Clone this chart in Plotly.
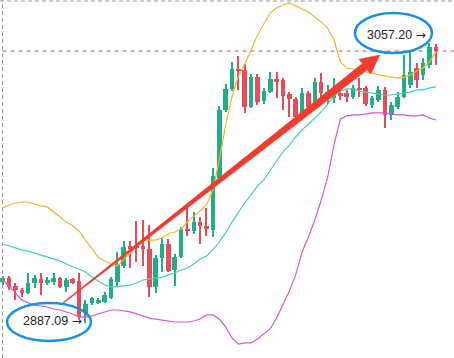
import math
import plotly.graph_objects as go

# ---------------- data ----------------
idx = list(range(69))
open_ = [2912.0, 2914.4, 2909.6, 2907.2, 2905.3, 2911.4, 2913.8, 2911.4, 2912.0, 2914.4,
         2909.0, 2913.8, 2912.6, 2893.2, 2899.3, 2899.3, 2899.9, 2902.3, 2912.0, 2921.7,
         2933.9, 2933.9, 2933.9, 2932.1, 2909.0, 2926.6, 2935.1, 2919.3, 2927.2, 2944.2,
         2943.0, 2948.5, 2946.0, 2943.6, 2975.2, 3016.5, 3029.3, 3041.4, 3040.8, 3018.3,
         3036.5, 3022.0, 3027.4, 3035.3, 3034.7, 3026.2, 3023.2, 3012.2, 3026.8, 3020.8,
         3033.5, 3023.8, 3023.8, 3026.8, 3026.8, 3024.4, 3029.9, 3029.9, 3019.5, 3022.6,
         3028.7, 3013.5, 3018.3, 3024.4, 3031.7, 3042.0, 3037.8, 3043.8, 3054.8]
high = [2915.7, 2915.7, 2911.4, 2908.4, 2917.5, 2916.3, 2917.5, 2915.0, 2917.5, 2915.0,
        2914.4, 2914.4, 2917.5, 2901.1, 2902.9, 2902.3, 2905.9, 2915.0, 2930.2, 2936.9,
        2936.9, 2949.1, 2949.7, 2946.6, 2928.4, 2938.7, 2938.1, 2929.0, 2945.4, 2957.7,
        2954.6, 2951.5, 2957.1, 2981.3, 3018.9, 3032.3, 3045.7, 3049.3, 3044.4, 3038.4,
        3038.4, 3029.9, 3039.6, 3039.6, 3035.9, 3027.4, 3024.4, 3029.9, 3028.0, 3035.9,
        3039.0, 3031.7, 3035.9, 3029.9, 3028.7, 3031.7, 3035.9, 3031.1, 3025.0, 3031.1,
        3030.5, 3021.4, 3027.4, 3049.9, 3053.0, 3045.1, 3048.1, 3057.20, 3056.6]
low = [2910.2, 2907.2, 2901.1, 2902.9, 2904.7, 2908.4, 2904.1, 2910.2, 2910.2, 2908.4,
       2905.9, 2910.8, 2889.5, 2887.09, 2898.0, 2898.6, 2899.3, 2901.7, 2909.6, 2920.5,
       2920.5, 2924.2, 2921.7, 2902.9, 2905.3, 2918.1, 2918.1, 2909.6, 2926.6, 2940.0,
       2941.2, 2935.1, 2940.0, 2939.3, 2974.0, 3015.3, 3028.0, 3028.7, 3014.7, 3017.7,
       3019.5, 3020.1, 3026.8, 3023.8, 3016.5, 3012.2, 3009.2, 3010.4, 3016.5, 3019.5,
       3019.5, 3020.1, 3020.8, 3022.6, 3021.4, 3023.2, 3024.4, 3018.9, 3017.7, 3021.4,
       3005.6, 3010.4, 3017.1, 3023.8, 3029.9, 3029.9, 3034.7, 3042.0, 3043.8]
close = [2914.4, 2909.0, 2907.2, 2905.3, 2911.4, 2914.4, 2911.4, 2913.2, 2914.4, 2909.0,
         2913.2, 2911.4, 2890.8, 2898.6, 2902.3, 2901.1, 2904.1, 2913.8, 2922.9, 2933.3,
         2932.1, 2932.7, 2932.1, 2909.0, 2926.6, 2935.1, 2918.7, 2927.2, 2944.2, 2943.0,
         2948.5, 2946.0, 2944.2, 2976.4, 3016.5, 3029.3, 3041.4, 3040.2, 3018.3, 3036.5,
         3021.4, 3028.0, 3035.3, 3034.1, 3025.0, 3023.2, 3012.2, 3026.8, 3018.3, 3033.5,
         3026.8, 3027.4, 3027.4, 3025.6, 3024.4, 3029.9, 3028.7, 3020.1, 3023.8, 3028.7,
         3013.5, 3019.5, 3024.4, 3037.8, 3039.6, 3034.7, 3045.1, 3054.8, 3052.3]

upper = [2957.0, 2958.8, 2960.0, 2960.6, 2960.6, 2959.4, 2958.2, 2957.6, 2954.5, 2951.5,
         2948.5, 2946.0, 2943.0, 2937.5, 2932.1, 2927.2, 2924.8, 2922.9, 2921.7, 2925.4,
         2929.6, 2933.9, 2936.9, 2937.5, 2937.5, 2938.7, 2941.2, 2942.4, 2944.2, 2948.5,
         2952.1, 2955.7, 2958.8, 2967.9, 2986.1, 3007.4, 3024.4, 3037.2, 3044.4, 3053.0,
         3062.1, 3068.7, 3075.4, 3078.5, 3080.3, 3081.5, 3079.7, 3077.9, 3076.0, 3073.0,
         3070.0, 3066.3, 3059.0, 3045.7, 3042.0, 3041.4, 3040.8, 3039.6, 3039.0, 3037.8,
         3037.2, 3036.5, 3035.9, 3036.5, 3037.8, 3040.2, 3042.0, 3045.7, 3051.7]
middle = [2935.1, 2933.9, 2932.7, 2931.5, 2930.8, 2929.6, 2928.4, 2927.2, 2926.0, 2924.8,
          2922.9, 2921.1, 2919.9, 2918.1, 2915.0, 2912.6, 2910.2, 2909.0, 2909.0, 2909.6,
          2910.2, 2911.4, 2913.2, 2913.8, 2914.4, 2915.0, 2916.3, 2917.5, 2919.3, 2920.5,
          2922.9, 2926.0, 2927.8, 2931.5, 2936.3, 2941.8, 2948.5, 2954.5, 2960.0, 2964.9,
          2970.3, 2974.0, 2980.1, 2985.5, 2991.0, 2995.2, 3000.1, 3004.4, 3008.0, 3011.6,
          3015.3, 3020.1, 3025.0, 3028.0, 3029.3, 3029.3, 3028.0, 3027.4, 3026.8, 3026.2,
          3025.6, 3025.6, 3026.2, 3026.8, 3027.4, 3028.7, 3028.7, 3029.9, 3030.5]
lower = [2913.2, 2909.6, 2905.3, 2901.1, 2899.3, 2898.0, 2897.4, 2896.8, 2895.6, 2895.0,
         2893.8, 2892.6, 2890.7, 2890.7, 2891.4, 2892.6, 2893.8, 2895.0, 2895.0, 2894.4,
         2893.8, 2892.6, 2891.4, 2890.1, 2889.5, 2888.9, 2888.3, 2887.7, 2887.7, 2887.7,
         2888.3, 2889.5, 2892.0, 2892.0, 2889.5, 2884.7, 2878.0, 2874.3, 2875.0, 2875.0,
         2877.4, 2880.4, 2883.5, 2890.1, 2898.0, 2906.5, 2916.3, 2930.2, 2939.3, 2949.7,
         2961.8, 2975.2, 2995.2, 3011.0, 3012.9, 3013.5, 3013.5, 3014.1, 3014.7, 3014.7,
         3014.7, 3014.1, 3013.5, 3013.5, 3012.9, 3012.9, 3013.5, 3011.6, 3010.4]

high_idx, high_val = 67, 3057.20
low_idx, low_val = 13, 2887.09
high_label = "3057.20"
low_label = "2887.09"
arrow_from = (9.5, 2899.3)
arrow_to = (59.2, 3049.9)

# ---------------- layout constants ----------------
W, H = 454, 358
X_RANGE = [-0.424, 70.85]
Y_RANGE = [2865.83, 3083.32]

GREEN = "#22ad86"
RED = "#e94b5b"
BODY_W = 0.72
WICK_W = 0.17
MIN_BODY = 0.9


def to_px(x, y):
    return ((x - X_RANGE[0]) / (X_RANGE[1] - X_RANGE[0]) * W,
            (Y_RANGE[1] - y) / (Y_RANGE[1] - Y_RANGE[0]) * H)


def to_data(px, py):
    return (X_RANGE[0] + px / W * (X_RANGE[1] - X_RANGE[0]),
            Y_RANGE[1] - py / H * (Y_RANGE[1] - Y_RANGE[0]))


def marker_text(label):
    return (label + ' <span style="font-family:DejaVu Sans;font-size:12px">→</span>')


fig = go.Figure()

fig.add_trace(go.Scatter(x=idx, y=upper, mode="lines",
                         line=dict(color="#f6b529", width=1.2), hoverinfo="skip"))
fig.add_trace(go.Scatter(x=idx, y=middle, mode="lines",
                         line=dict(color="#45d0b2", width=1.2), hoverinfo="skip"))
fig.add_trace(go.Scatter(x=idx, y=lower, mode="lines",
                         line=dict(color="#e056c6", width=1.2), hoverinfo="skip"))

# candles drawn as bars (wick + body)
colors = [GREEN if c >= o else RED for o, c in zip(open_, close)]
fig.add_trace(go.Bar(x=idx, base=low, y=[h - l for h, l in zip(high, low)],
                     width=WICK_W, marker=dict(color=colors, line=dict(width=0)),
                     hoverinfo="skip"))
body_base = [min(o, c) for o, c in zip(open_, close)]
body_h = [max(abs(c - o), MIN_BODY) for o, c in zip(open_, close)]
fig.add_trace(go.Bar(x=idx, base=body_base, y=body_h, width=BODY_W,
                     marker=dict(color=colors, line=dict(width=0)),
                     customdata=list(zip(open_, high, low, close)),
                     hovertemplate="O %{customdata[0]}<br>H %{customdata[1]}<br>"
                                   "L %{customdata[2]}<br>C %{customdata[3]}<extra></extra>"))

# tapered red arrow
sx, sy = to_px(*arrow_from)
ex, ey = to_px(*arrow_to)
dx, dy = ex - sx, ey - sy
L = math.hypot(dx, dy)
ux, uy = dx / L, dy / L
nx, ny = -uy, ux
head_len, head_w = 19, 9.5
w0, w1 = 0.4, 4.0
bx, by = ex - head_len * ux, ey - head_len * uy
pts = [
    (sx + nx * w0, sy + ny * w0),
    (bx + nx * w1, by + ny * w1),
    (bx + nx * head_w, by + ny * head_w),
    (ex, ey),
    (bx - nx * head_w, by - ny * head_w),
    (bx - nx * w1, by - ny * w1),
    (sx - nx * w0, sy - ny * w0),
]
dpts = [to_data(px, py) for px, py in pts]
fig.add_trace(go.Scatter(x=[p[0] for p in dpts] + [dpts[0][0]],
                         y=[p[1] for p in dpts] + [dpts[0][1]],
                         mode="lines", fill="toself", fillcolor="#f03b30",
                         line=dict(color="#f03b30", width=0.5), hoverinfo="skip"))

shapes = [
    dict(type="line", xref="paper", yref="paper", x0=0, x1=1, y0=1 - 1 / H, y1=1 - 1 / H,
         line=dict(color="#9a9a9a", width=1, dash="4px,3px")),
    dict(type="line", xref="paper", yref="paper", x0=2.5 / W, x1=2.5 / W, y0=0, y1=1,
         line=dict(color="#9a9a9a", width=1, dash="4px,3px")),
    dict(type="line", xref="paper", yref="y", x0=2.5 / W, x1=1, y0=close[-1], y1=close[-1],
         line=dict(color="#c8506e", width=1, dash="4px,4px"), layer="below"),
    dict(type="circle", xref="x", yref="y", xsizemode="pixel", ysizemode="pixel",
         xanchor=high_idx, yanchor=high_val, x0=-74.5, x1=2.5, y0=-10, y1=30,
         line=dict(color="#1a8fe3", width=2.5)),
    dict(type="circle", xref="x", yref="y", xsizemode="pixel", ysizemode="pixel",
         xanchor=low_idx, yanchor=low_val, x0=-78.5, x1=5.5, y0=-18, y1=20,
         line=dict(color="#1a8fe3", width=2.5)),
]

annotations = [
    dict(x=high_idx, y=high_val, text=marker_text(high_label), showarrow=False,
         xanchor="right", yanchor="middle", xshift=-1, yshift=8,
         font=dict(family="Liberation Sans, Arial", size=12.5, color="#222222")),
    dict(x=low_idx, y=low_val, text=marker_text(low_label), showarrow=False,
         xanchor="right", yanchor="middle", xshift=-2, yshift=2,
         font=dict(family="Liberation Sans, Arial", size=12.5, color="#222222")),
]

fig.update_layout(
    width=W, height=H, margin=dict(l=0, r=0, t=0, b=0),
    paper_bgcolor="white", plot_bgcolor="white", showlegend=False,
    barmode="overlay", bargap=0,
    xaxis=dict(range=X_RANGE, visible=False, fixedrange=True),
    yaxis=dict(range=Y_RANGE, visible=False, fixedrange=True),
    shapes=shapes, annotations=annotations,
)

fig.write_html("out.html")
